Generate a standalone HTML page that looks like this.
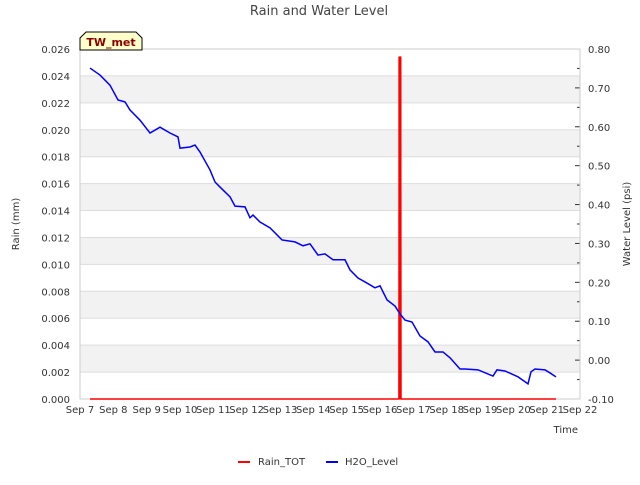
<!DOCTYPE html>
<html><head><meta charset="utf-8"><style>
body{margin:0;background:#fff;font-family:"Liberation Sans","DejaVu Sans",sans-serif}
</style></head><body>
<svg id="c" width="640" height="480" xmlns="http://www.w3.org/2000/svg" font-family="DejaVu Sans, Liberation Sans, sans-serif">
<text x="319" y="15" text-anchor="middle" font-size="13" fill="#444">Rain and Water Level</text>
<g id="bands"></g><g id="grid"></g>
<g id="axes"></g>
<g id="series"></g>
<g>
<path d="M80,50 L80,38 L86,32 L136,32 L142,38 L142,50 Z" fill="#ffffcc" stroke="#000" stroke-width="1"/>
<text x="111" y="46" text-anchor="middle" font-size="11" font-weight="bold" fill="#8b0000">TW_met</text>
</g>
<text transform="translate(19,224) rotate(-90)" text-anchor="middle" font-size="10" fill="#333">Rain (mm)</text>
<text transform="translate(630,224) rotate(-90)" text-anchor="middle" font-size="10" fill="#333">Water Level (psi)</text>
<text x="578" y="433" text-anchor="end" font-size="10" fill="#333">Time</text>
<g font-size="10" fill="#333">
<g><line x1="238" y1="462" x2="250" y2="462" stroke="#ff0000" stroke-width="2"/><text x="258" y="465">Rain_TOT</text></g>
<g><line x1="326" y1="462" x2="338" y2="462" stroke="#0000ff" stroke-width="2"/><text x="345" y="465">H2O_Level</text></g>
</g>
</svg>
<script>
const xTickLabels=["Sep 7","Sep 8","Sep 9","Sep 10","Sep 11","Sep 12","Sep 13","Sep 14","Sep 15","Sep 16","Sep 17","Sep 18","Sep 19","Sep 20","Sep 21","Sep 22"];
const leftTicks=[0,0.002,0.004,0.006,0.008,0.010,0.012,0.014,0.016,0.018,0.020,0.022,0.024,0.026];
const rightTicks=[-0.10,0.00,0.10,0.20,0.30,0.40,0.50,0.60,0.70,0.80];
const waterDays=[0.3,0.6,0.9,1.14,1.35,1.5,1.8,2.1,2.4,2.7,2.94,3.0,3.3,3.45,3.6,3.9,4.05,4.2,4.5,4.65,4.95,5.1,5.19,5.4,5.7,6.06,6.45,6.69,6.9,7.14,7.35,7.59,7.95,8.1,8.34,8.55,8.85,9.0,9.21,9.45,9.6,9.75,9.96,10.2,10.44,10.65,10.89,11.1,11.4,11.55,11.94,12.39,12.51,12.75,13.14,13.44,13.53,13.65,13.95,14.1,14.28];
const waterLevels=[0.751,0.733,0.707,0.669,0.664,0.643,0.617,0.584,0.599,0.584,0.574,0.545,0.548,0.553,0.535,0.489,0.458,0.445,0.420,0.396,0.394,0.366,0.373,0.355,0.340,0.309,0.304,0.294,0.299,0.270,0.273,0.258,0.258,0.232,0.211,0.201,0.186,0.191,0.155,0.139,0.119,0.103,0.098,0.062,0.047,0.021,0.021,0.006,-0.023,-0.023,-0.025,-0.041,-0.025,-0.028,-0.043,-0.061,-0.030,-0.023,-0.025,-0.033,-0.043];
const rainDays=[0.3,9.57,9.58,9.6,9.62,9.63,14.28];
const rainValues=[0,0,0.0254,0.0254,0.0254,0,0];
const L=80,R=580,T=49,B=399,NS="http://www.w3.org/2000/svg";
const xs=d=>L+d*(R-L)/15, yl=v=>B-v/0.026*(B-T), yr=v=>B-(v+0.1)/0.9*(B-T);
function el(p,t,a){const e=document.createElementNS(NS,t);for(const k in a)e.setAttribute(k,a[k]);document.getElementById(p).appendChild(e);return e;}
for(let i=0;i<leftTicks.length-1;i++){if(i%2==1){const b=el('bands','rect',{x:L,y:yl(leftTicks[i+1]),width:R-L,height:yl(leftTicks[i])-yl(leftTicks[i+1]),fill:'#f2f2f2'});

}}
leftTicks.forEach(v=>{const g=el('grid','line',{x1:L,x2:R,y1:yl(v),y2:yl(v),stroke:'#dddddd'});


const t=el('axes','text',{x:L-10,y:yl(v)+4,'text-anchor':'end','font-size':10,fill:'#333'});t.textContent=v.toFixed(3);

});
rightTicks.forEach(v=>{const y=yr(v);el('axes','line',{x1:R-5,x2:R,y1:y,y2:y,stroke:'#333'});
const m=yr(v+0.05);if(v<0.8)el('axes','line',{x1:R-3,x2:R,y1:m,y2:m,stroke:'#333'});
const t=el('axes','text',{x:R+8,y:y+4,'font-size':10,fill:'#333'});t.textContent=v.toFixed(2);

});
xTickLabels.forEach((s,i)=>{const t=el('axes','text',{x:xs(i),y:413,'text-anchor':'middle','font-size':10,fill:'#333'});t.textContent=s;

});
el('axes','rect',{x:L,y:T,width:R-L,height:B-T,fill:'none',stroke:'#cccccc'});
const rp=el('series','polyline',{points:rainDays.map((d,i)=>xs(d)+','+yl(rainValues[i])).join(' '),fill:'none',stroke:'#ff0000','stroke-width':1.5});


const sp=el('series','rect',{x:xs(rainDays[2])-1,y:yl(rainValues[2]),width:3,height:B-yl(rainValues[2]),fill:'#ff0000'});


const wp=el('series','polyline',{points:waterDays.map((d,i)=>xs(d)+','+yr(waterLevels[i])).join(' '),fill:'none',stroke:'#0000ff','stroke-width':1.5});


</script>
</body></html>
